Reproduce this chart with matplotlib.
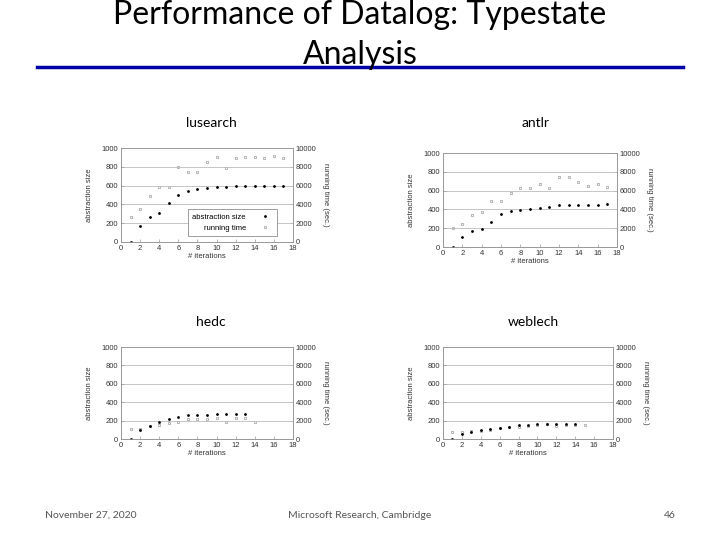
import matplotlib
matplotlib.use('Agg')
import matplotlib.pyplot as plt

# Datos
iter_lus = list(range(1, 18))
abs_lus = [0, 170, 265, 310, 410, 500, 540, 560, 570, 580, 590, 595, 595, 595, 595, 595, 595]
time_lus = [2700, 3500, 4900, 5800, 5900, 8000, 7400, 7400, 8500, 9000, 7900, 8900, 9000, 9000, 8900, 9100, 8900]

iter_antlr = list(range(1, 18))
abs_antlr = [0, 110, 170, 190, 270, 350, 380, 390, 400, 420, 430, 450, 450, 450, 450, 450, 460]
time_antlr = [2000, 2500, 3400, 3700, 4900, 4900, 5700, 6300, 6300, 6700, 6300, 7400, 7400, 6900, 6500, 6700, 6400]

iter_hedc = list(range(1, 15))
abs_hedc = [0, 100, 140, 190, 220, 240, 260, 260, 260, 270, 270, 275, 275]
time_hedc = [1100, 1100, 1400, 1500, 1700, 1900, 2200, 2200, 2200, 2300, 1900, 2300, 2300, 1900]

iter_web = list(range(1, 16))
abs_web = [0, 50, 80, 100, 110, 120, 130, 150, 155, 165, 165, 160, 160, 165]
time_web = [800, 800, 900, 900, 1000, 1200, 1300, 1300, 1400, 1500, 1600, 1400, 1500, 1500, 1500]

nombres = ['lusearch', 'antlr', 'hedc', 'weblech']
W, H = 720, 540

fig = plt.figure(figsize=(7.2, 5.4), dpi=100)
slide_font = ['Lato', 'DejaVu Sans']
chart_font = ['Liberation Sans', 'DejaVu Sans']

# Título de la diapositiva
fig.text(360 / W, 1 - 15 / H, 'Performance of Datalog: Typestate', ha='center', va='center',
         fontsize=23, family=slide_font)
fig.text(360 / W, 1 - 55 / H, 'Analysis', ha='center', va='center', fontsize=23, family=slide_font)
fig.add_artist(plt.Line2D([37 / W, 683 / W], [1 - 67 / H, 1 - 67 / H], color='#0000a8', lw=2.5))

# Pie de página
fig.text(91 / W, 1 - 515 / H, 'November 27, 2020', ha='center', va='center', fontsize=7.5,
         color='#555555', family=slide_font)
fig.text(360 / W, 1 - 515 / H, 'Microsoft Research, Cambridge', ha='center', va='center', fontsize=7.5,
         color='#555555', family=slide_font)
fig.text(670 / W, 1 - 515 / H, '46', ha='center', va='center', fontsize=7.5,
         color='#555555', family=slide_font)


def grafico(x0, x1, ytop, ybot, titulo, tx, ty, iters, abs_vals, time_vals, leyenda=False):
    fig.text(tx / W, 1 - ty / H, titulo, ha='center', va='center', fontsize=10, family=slide_font)
    ax = fig.add_axes([x0 / W, 1 - ybot / H, (x1 - x0) / W, (ybot - ytop) / H])
    ax2 = ax.twinx()
    ax.set_xlim(0, 18)
    ax.set_ylim(0, 1000)
    ax2.set_ylim(0, 10000)
    ax.set_xticks(range(0, 19, 2))
    ax.set_yticks(range(0, 1001, 200))
    ax2.set_yticks(range(0, 10001, 2000))
    ax.grid(axis='y', color='#bbbbbb', lw=0.6)
    for a in (ax, ax2):
        for s in a.spines.values():
            s.set_color('#999999')
            s.set_linewidth(0.6)
        a.tick_params(labelsize=5.5, length=2, width=0.5, color='#999999', labelcolor='#333333', pad=2)
        for lbl in a.get_xticklabels() + a.get_yticklabels():
            lbl.set_family(chart_font)
    ax.tick_params(axis='x', direction='in')
    ax.tick_params(axis='y', direction='in')
    ax2.tick_params(axis='y', direction='in')
    ax.set_xlabel('# iterations', fontsize=5.5, color='#333333', family=chart_font, labelpad=1)
    ax.set_ylabel('abstraction size', fontsize=5.5, color='#333333', family=chart_font, labelpad=6)
    ax2.set_ylabel('running time (sec.)', fontsize=5.5, color='#333333', family=chart_font,
                   rotation=270, labelpad=9)
    t = ax2.plot(iters[:len(time_vals)], time_vals, 's', ms=1.8, mfc='none', mec='#999999', mew=0.5,
                 label='running time')
    a = ax.plot(iters[:len(abs_vals)], abs_vals, 'o', ms=1.0, color='black', label='abstraction size')
    ax.set_zorder(ax2.get_zorder() + 1)
    ax.patch.set_visible(False)
    if leyenda:
        leg = ax.legend(a + t, ['abstraction size', 'running time'], loc='lower right', fontsize=5.5,
                        markerfirst=False, fancybox=False, edgecolor='#777777', framealpha=1,
                        borderpad=0.6, handletextpad=1.5, prop={'family': chart_font, 'size': 5.5},
                        bbox_to_anchor=(0.93, 0.02))
        leg.get_frame().set_linewidth(0.5)
    return ax


grafico(121, 293, 148, 242, nombres[0], 211, 123, iter_lus, abs_lus, time_lus, leyenda=True)
grafico(443, 617, 153, 247, nombres[1], 536, 123, iter_antlr, abs_antlr, time_antlr)
grafico(121, 293, 347, 439, nombres[2], 211, 322, iter_hedc, abs_hedc, time_hedc)
grafico(443, 613, 347, 439, nombres[3], 533, 322, iter_web, abs_web, time_web)

fig.savefig('out.png', dpi=100)
